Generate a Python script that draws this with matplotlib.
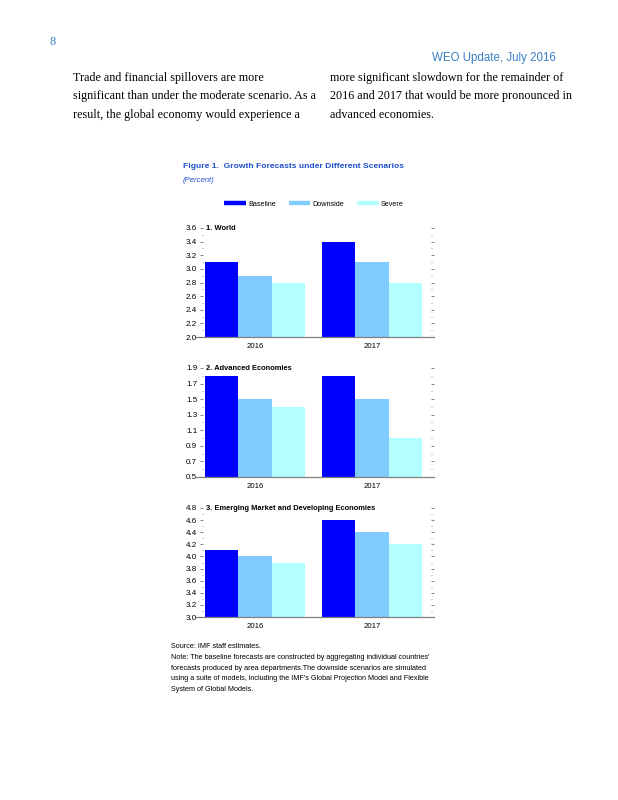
import matplotlib
matplotlib.use("Agg")
import matplotlib.pyplot as plt
from matplotlib import font_manager
from matplotlib.lines import Line2D
from matplotlib.ticker import FixedLocator, FormatStrFormatter
import numpy as np

names = {f.name for f in font_manager.fontManager.ttflist}
NARROW = 'Liberation Sans Narrow' if 'Liberation Sans Narrow' in names else 'Liberation Sans'
SERIF = 'Liberation Serif'

years = ["2016", "2017"]
scenarios = ["Baseline", "Downside", "Severe"]
colors = ["#0000ff", "#80ccff", "#b3ffff"]

panel_titles = ["1. World", "2. Advanced Economies",
                "3. Emerging Market and Developing Economies"]
world = [[3.1, 3.4], [2.9, 3.1], [2.8, 2.8]]
advanced = [[1.8, 1.8], [1.5, 1.5], [1.4, 1.0]]
emerging = [[4.1, 4.6], [4.0, 4.4], [3.9, 4.2]]
panel_data = [world, advanced, emerging]
panel_ylims = [(2.0, 3.6), (0.5, 1.9), (3.0, 4.8)]
panel_step = [0.2, 0.2, 0.2]

fig = plt.figure(figsize=(6.18, 8.0), dpi=100)
W, H = 618.0, 800.0

def fx(px):
    return px / W

def fy(py):
    return 1 - py / H

blue_text = "#3a7fc4"

# page header
fig.text(fx(50), fy(42), "8", family=SERIF, fontsize=9, color=blue_text, va="center", ha="left")
fig.text(fx(556), fy(58), "WEO Update, July 2016", family="Liberation Sans", fontsize=8.3,
         color=blue_text, va="center", ha="right")

left_lines = ["Trade and financial spillovers are more",
              "significant than under the moderate scenario. As a",
              "result, the global economy would experience a"]
right_lines = ["more significant slowdown for the remainder of",
               "2016 and 2017 that would be more pronounced in",
               "advanced economies."]
for i, (l, r) in enumerate(zip(left_lines, right_lines)):
    y = 78 + i * 18.5
    fig.text(fx(73), fy(y), l, family=SERIF, fontsize=8.75, va="center", ha="left")
    fig.text(fx(330), fy(y), r, family=SERIF, fontsize=8.75, va="center", ha="left")

# figure title
fig.text(fx(183), fy(167), "Figure 1.  Growth Forecasts under Different Scenarios",
         family=NARROW, fontsize=6.1, fontweight="bold", color="#1f4fc9", va="center", ha="left")
fig.text(fx(183), fy(180), "(Percent)", family=NARROW, fontsize=5.6, fontstyle="italic",
         color="#1f4fc9", va="center", ha="left")

# axes
ax_left, ax_right = 203, 431
tops = [228, 368, 508]
bottoms = [337, 477, 617]
bw = 0.286
x = np.arange(len(years))

for k in range(3):
    ax = fig.add_axes([fx(ax_left), fy(bottoms[k]), fx(ax_right) - fx(ax_left),
                       (bottoms[k] - tops[k]) / H])
    data = panel_data[k]
    for j in range(3):
        ax.bar(x + (j - 1) * bw, data[j], width=bw, color=colors[j],
               linewidth=0, zorder=2)
    lo, hi = panel_ylims[k]
    step = panel_step[k]
    ax.set_ylim(lo, hi)
    ax.set_xlim(-0.444, 1.504)
    major = np.round(np.arange(lo, hi + step / 2, step), 2)
    minor = np.round(major[:-1] + step / 2, 2)
    ax.yaxis.set_major_locator(FixedLocator(major))
    ax.yaxis.set_minor_locator(FixedLocator(minor))
    ax.yaxis.set_major_formatter(FormatStrFormatter("%.1f"))
    for s in ["top", "left", "right"]:
        ax.spines[s].set_visible(False)
    ax.spines["bottom"].set_color("#808080")
    ax.spines["bottom"].set_linewidth(0.9)
    ax.spines["bottom"].set_bounds(-0.5, 1.53)
    ax.spines["bottom"].set_zorder(3)
    ax.set_xticks(x)
    ax.set_xticklabels(years)
    ax.tick_params(axis="x", length=0, pad=4, labelsize=5.6)
    ax.tick_params(axis="y", which="major", direction="out", length=2.2, width=0.5,
                   pad=2, labelsize=5.8, left=True, right=True, color="#555555")
    ax.tick_params(axis="y", which="minor", direction="out", length=1.0, width=0.5,
                   left=True, right=True, color="#777777")
    for lab in ax.get_xticklabels() + ax.get_yticklabels():
        lab.set_family(NARROW)
    ax.text(0.013, 1.0, panel_titles[k], transform=ax.transAxes, family=NARROW,
            fontsize=5.4, fontweight="bold", va="center", ha="left")

# legend
handles = [Line2D([0], [0], color=c, lw=3.2, solid_capstyle="butt") for c in colors]
fig.legend(handles, scenarios, loc="center", bbox_to_anchor=(fx(314), fy(204)), ncol=3,
           frameon=False, prop={"family": NARROW, "size": 5.2}, handlelength=3.0,
           handletextpad=0.3, columnspacing=1.8)

note = ("Source: IMF staff estimates.\n"
        "Note: The baseline forecasts are constructed by aggregating individual countries'\n"
        "forecasts produced by area departments.The downside scenarios are simulated\n"
        "using a suite of models, including the IMF's Global Projection Model and Flexible\n"
        "System of Global Models.")
fig.text(fx(171), fy(643), note, family=NARROW, fontsize=5.2, va="top", ha="left",
         linespacing=1.75)

fig.savefig("out.png", dpi=100)
